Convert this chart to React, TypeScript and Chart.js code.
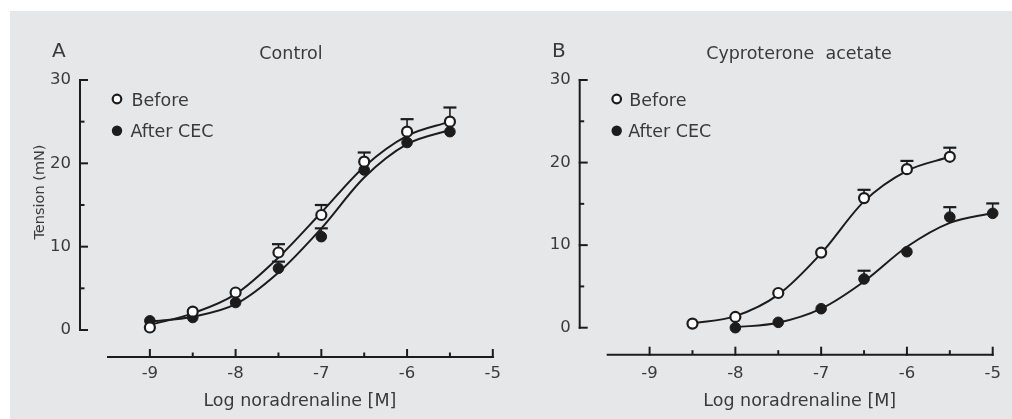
import React, { useEffect, useRef } from "react";
import { Chart, registerables } from "chart.js";

Chart.register(...registerables);

// ---------- Data ----------
const xTickValues = [-9, -8, -7, -6, -5];
const xTickLabels = ["-9", "-8", "-7", "-6", "-5"];
const xMinorTicks = [-8.5, -7.5, -6.5, -5.5];
const yTickValues = [0, 10, 20, 30];
const yTickLabels = ["0", "10", "20", "30"];
const yMinorTicks = [5, 15, 25];

// Panel A: Control
const controlDose = [-9, -8.5, -8, -7.5, -7, -6.5, -6, -5.5];
const controlBefore = [0.3, 2.2, 4.5, 9.3, 13.8, 20.2, 23.8, 25.0];
const controlBeforeSem = [0, 0, 0, 1.0, 1.2, 1.1, 1.5, 1.7];
const controlBeforeFit = [0.6, 2.0, 4.3, 8.7, 14.1, 19.6, 23.3, 25.0];
const controlAfter = [1.1, 1.5, 3.3, 7.4, 11.2, 19.2, 22.5, 23.8];
const controlAfterSem = [0, 0, 0, 0.8, 1.0, 0, 0, 0];
const controlAfterFit = [1.0, 1.6, 3.1, 6.9, 12.2, 18.3, 22.3, 24.0];

// Panel B: Cyproterone acetate
const cyproBeforeDose = [-8.5, -8, -7.5, -7, -6.5, -6, -5.5];
const cyproBefore = [0.5, 1.3, 4.2, 9.1, 15.7, 19.2, 20.7];
const cyproBeforeSem = [0, 0, 0, 0, 1.0, 1.0, 1.1];
const cyproBeforeFit = [0.5, 1.4, 4.0, 9.0, 15.3, 19.0, 20.7];
const cyproAfterDose = [-8, -7.5, -7, -6.5, -6, -5.5, -5];
const cyproAfter = [0.0, 0.65, 2.3, 5.9, 9.2, 13.4, 13.85];
const cyproAfterSem = [0, 0, 0, 1.0, 0, 1.2, 1.2];
const cyproAfterFit = [0.05, 0.6, 2.3, 5.6, 9.8, 12.7, 13.9];

const legendLabels = ["Before", "After CEC"];

// ---------- Styles ----------
const FONT = "'DejaVu Sans', 'Liberation Sans', sans-serif";
const TEXT = "#3a3a3a";
const INK = "#1c1c1c";
const BG = "#e6e7e9";

type Panel = {
  letter: string;
  title: string;
  yTitle?: string;
  left: number;
  width: number;
  padRight: number;
  yWidth: number;
  xHeight: number;
  xTickPad: number;
  yTickPad: number;
  titleCenterX: number; // canvas coords
  letterX: number;
  textGap: number;
  beforeDose: number[];
  before: number[];
  beforeSem: number[];
  beforeFit: number[];
  afterDose: number[];
  after: number[];
  afterSem: number[];
  afterFit: number[];
};

const panels: Panel[] = [
  {
    letter: "A",
    title: "Control",
    yTitle: "Tension (mN)",
    left: 10,
    width: 490,
    padRight: 5,
    yWidth: 97,
    xHeight: 89,
    xTickPad: 34,
    yTickPad: 36,
    titleCenterX: 281,
    letterX: 42,
    textGap: 14.5,
    beforeDose: controlDose,
    before: controlBefore,
    beforeSem: controlBeforeSem,
    beforeFit: controlBeforeFit,
    afterDose: controlDose,
    after: controlAfter,
    afterSem: controlAfterSem,
    afterFit: controlAfterFit,
  },
  {
    letter: "B",
    title: "Cyproterone  acetate",
    left: 500,
    width: 512,
    padRight: 19.3,
    yWidth: 106.7,
    xHeight: 91.3,
    xTickPad: 36,
    yTickPad: 36,
    titleCenterX: 299,
    letterX: 52,
    textGap: 12.5,
    beforeDose: cyproBeforeDose,
    before: cyproBefore,
    beforeSem: cyproBeforeSem,
    beforeFit: cyproBeforeFit,
    afterDose: cyproAfterDose,
    after: cyproAfter,
    afterSem: cyproAfterSem,
    afterFit: cyproAfterFit,
  },
];

const CANVAS_TOP = 11;
const CANVAS_H = 408;
const AXIS_OFFSET = 27;

function makePlugin(p: Panel) {
  return {
    id: "panelDecor" + p.letter,
    beforeDatasetsDraw(chart: any) {
      const { ctx, chartArea } = chart;
      const xs = chart.scales.x;
      const ys = chart.scales.y;
      ctx.save();
      ctx.strokeStyle = INK;
      ctx.lineCap = "butt";
      // y axis
      const ax = chartArea.left - AXIS_OFFSET;
      ctx.lineWidth = 2;
      ctx.beginPath();
      ctx.moveTo(ax, ys.getPixelForValue(yTickValues[0]) + 1);
      ctx.lineTo(ax, ys.getPixelForValue(yTickValues[yTickValues.length - 1]) - 1);
      ctx.stroke();
      yTickValues.forEach((v) => {
        const py = ys.getPixelForValue(v);
        ctx.beginPath();
        ctx.moveTo(ax - 1, py);
        ctx.lineTo(ax + 8, py);
        ctx.stroke();
      });
      yMinorTicks.forEach((v) => {
        const py = ys.getPixelForValue(v);
        ctx.beginPath();
        ctx.moveTo(ax, py);
        ctx.lineTo(ax + 4.5, py);
        ctx.stroke();
      });
      // x axis
      const ay = chartArea.bottom + AXIS_OFFSET;
      ctx.beginPath();
      ctx.moveTo(xs.getPixelForValue(xs.min), ay);
      ctx.lineTo(xs.getPixelForValue(xs.max) + 1, ay);
      ctx.stroke();
      xTickValues.forEach((v) => {
        const px = xs.getPixelForValue(v);
        ctx.beginPath();
        ctx.moveTo(px, ay + 1);
        ctx.lineTo(px, ay - 8);
        ctx.stroke();
      });
      xMinorTicks.forEach((v) => {
        const px = xs.getPixelForValue(v);
        ctx.beginPath();
        ctx.moveTo(px, ay);
        ctx.lineTo(px, ay - 4.5);
        ctx.stroke();
      });
      // error bars (upper only)
      const drawErr = (dose: number[], vals: number[], sem: number[]) => {
        dose.forEach((d, i) => {
          if (!sem[i]) return;
          const px = xs.getPixelForValue(d);
          const py0 = ys.getPixelForValue(vals[i]);
          const py1 = ys.getPixelForValue(vals[i] + sem[i]);
          ctx.lineWidth = 1.6;
          ctx.beginPath();
          ctx.moveTo(px, py0);
          ctx.lineTo(px, py1);
          ctx.stroke();
          ctx.lineWidth = 2.2;
          ctx.beginPath();
          ctx.moveTo(px - 6.5, py1);
          ctx.lineTo(px + 6.5, py1);
          ctx.stroke();
        });
      };
      drawErr(p.beforeDose, p.before, p.beforeSem);
      drawErr(p.afterDose, p.after, p.afterSem);
      ctx.restore();
    },
    afterDraw(chart: any) {
      const { ctx, chartArea } = chart;
      ctx.save();
      ctx.fillStyle = TEXT;
      // panel letter
      ctx.font = `20px ${FONT}`;
      ctx.textAlign = "left";
      ctx.textBaseline = "alphabetic";
      ctx.fillText(p.letter, p.letterX, 46);
      // panel title
      ctx.font = `17.5px ${FONT}`;
      ctx.textAlign = "center";
      ctx.fillText(p.title, p.titleCenterX, 47.5);
      // legend
      const lx = chartArea.left + 10;
      const rows = [88, 119.7];
      ctx.strokeStyle = INK;
      // Before (open)
      ctx.beginPath();
      ctx.arc(lx, rows[0], 4.3, 0, Math.PI * 2);
      ctx.fillStyle = "#ffffff";
      ctx.fill();
      ctx.lineWidth = 2.2;
      ctx.stroke();
      // After (filled)
      ctx.beginPath();
      ctx.arc(lx, rows[1], 5.2, 0, Math.PI * 2);
      ctx.fillStyle = INK;
      ctx.fill();
      ctx.fillStyle = TEXT;
      ctx.textAlign = "left";
      ctx.textBaseline = "alphabetic";
      ctx.font = `17.5px ${FONT}`;
      ctx.fillText(legendLabels[0], lx + p.textGap, rows[0] + 6.5);
      ctx.fillText(legendLabels[1], lx + p.textGap - 1, rows[1] + 6.5);
      // y title
      if (p.yTitle) {
        ctx.save();
        ctx.translate(33.5, 181);
        ctx.rotate(-Math.PI / 2);
        ctx.font = `14.5px ${FONT}`;
        ctx.textAlign = "center";
        ctx.textBaseline = "alphabetic";
        ctx.fillText(p.yTitle, 0, 0);
        ctx.restore();
      }
      ctx.restore();
    },
  };
}

function PanelChart({ p }: { p: Panel }) {
  const ref = useRef<HTMLCanvasElement | null>(null);
  useEffect(() => {
    if (!ref.current) return;
    const pts = (xs: number[], ys: number[]) => xs.map((x, i) => ({ x, y: ys[i] }));
    const chart = new Chart(ref.current, {
      type: "scatter",
      data: {
        datasets: [
          {
            label: "Before fit",
            data: pts(p.beforeDose, p.beforeFit),
            showLine: true,
            pointRadius: 0,
            borderColor: INK,
            borderWidth: 2,
            cubicInterpolationMode: "monotone",
            clip: false,
            order: 4,
          } as any,
          {
            label: "After fit",
            data: pts(p.afterDose, p.afterFit),
            showLine: true,
            pointRadius: 0,
            borderColor: INK,
            borderWidth: 2,
            cubicInterpolationMode: "monotone",
            clip: false,
            order: 3,
          } as any,
          {
            label: legendLabels[1],
            data: pts(p.afterDose, p.after),
            showLine: false,
            pointRadius: 5.3,
            pointBackgroundColor: INK,
            pointBorderColor: INK,
            pointBorderWidth: 1,
            clip: false,
            order: 2,
          } as any,
          {
            label: legendLabels[0],
            data: pts(p.beforeDose, p.before),
            showLine: false,
            pointRadius: 5,
            pointBackgroundColor: "#ffffff",
            pointBorderColor: INK,
            pointBorderWidth: 2.2,
            clip: false,
            order: 1,
          } as any,
        ],
      },
      options: {
        animation: false,
        responsive: false,
        maintainAspectRatio: false,
        devicePixelRatio: 1,
        events: [],
        layout: { padding: { top: 69, right: p.padRight, bottom: 0, left: 0 } },
        plugins: {
          legend: { display: false },
          tooltip: { enabled: false },
          title: { display: false },
        },
        scales: {
          x: {
            type: "linear",
            min: -9.5,
            max: -5,
            grid: { display: false, drawTicks: false },
            border: { display: false },
            afterBuildTicks: (s: any) => {
              s.ticks = xTickValues.map((v) => ({ value: v }));
            },
            afterFit: (s: any) => {
              s.height = p.xHeight;
              s.paddingLeft = 0;
              s.paddingRight = 0;
            },
            ticks: {
              padding: p.xTickPad,
              color: TEXT,
              font: { family: FONT, size: 16.5 },
              maxRotation: 0,
              autoSkip: false,
              callback: (v: any) => xTickLabels[xTickValues.indexOf(Number(v))] ?? "",
            },
            title: {
              display: true,
              text: "Log noradrenaline [M]",
              color: TEXT,
              font: { family: FONT, size: 17.5 },
              padding: { top: 0, bottom: 7.5 },
            },
          },
          y: {
            type: "linear",
            min: 0,
            max: 30,
            grid: { display: false, drawTicks: false },
            border: { display: false },
            afterBuildTicks: (s: any) => {
              s.ticks = yTickValues.map((v) => ({ value: v }));
            },
            afterFit: (s: any) => {
              s.width = p.yWidth;
              s.paddingTop = 0;
              s.paddingBottom = 0;
            },
            ticks: {
              padding: p.yTickPad,
              color: TEXT,
              font: { family: FONT, size: 16.5 },
              autoSkip: false,
              callback: (v: any) => yTickLabels[yTickValues.indexOf(Number(v))] ?? "",
            },
          },
        },
      } as any,
      plugins: [makePlugin(p)],
    });
    return () => chart.destroy();
  }, [p]);
  return (
    <canvas
      ref={ref}
      width={p.width}
      height={CANVAS_H}
      style={{
        position: "absolute",
        left: p.left,
        top: CANVAS_TOP,
        width: p.width,
        height: CANVAS_H,
      }}
    />
  );
}

export default function App() {
  return (
    <div
      style={{
        position: "fixed",
        left: 0,
        top: 0,
        width: 1012,
        height: 419,
        background: "#ffffff",
        overflow: "hidden",
      }}
    >
      <div
        style={{
          position: "absolute",
          left: 10,
          top: 11,
          width: 1002,
          height: 408,
          background: BG,
        }}
      />
      {panels.map((p) => (
        <PanelChart key={p.letter} p={p} />
      ))}
    </div>
  );
}
